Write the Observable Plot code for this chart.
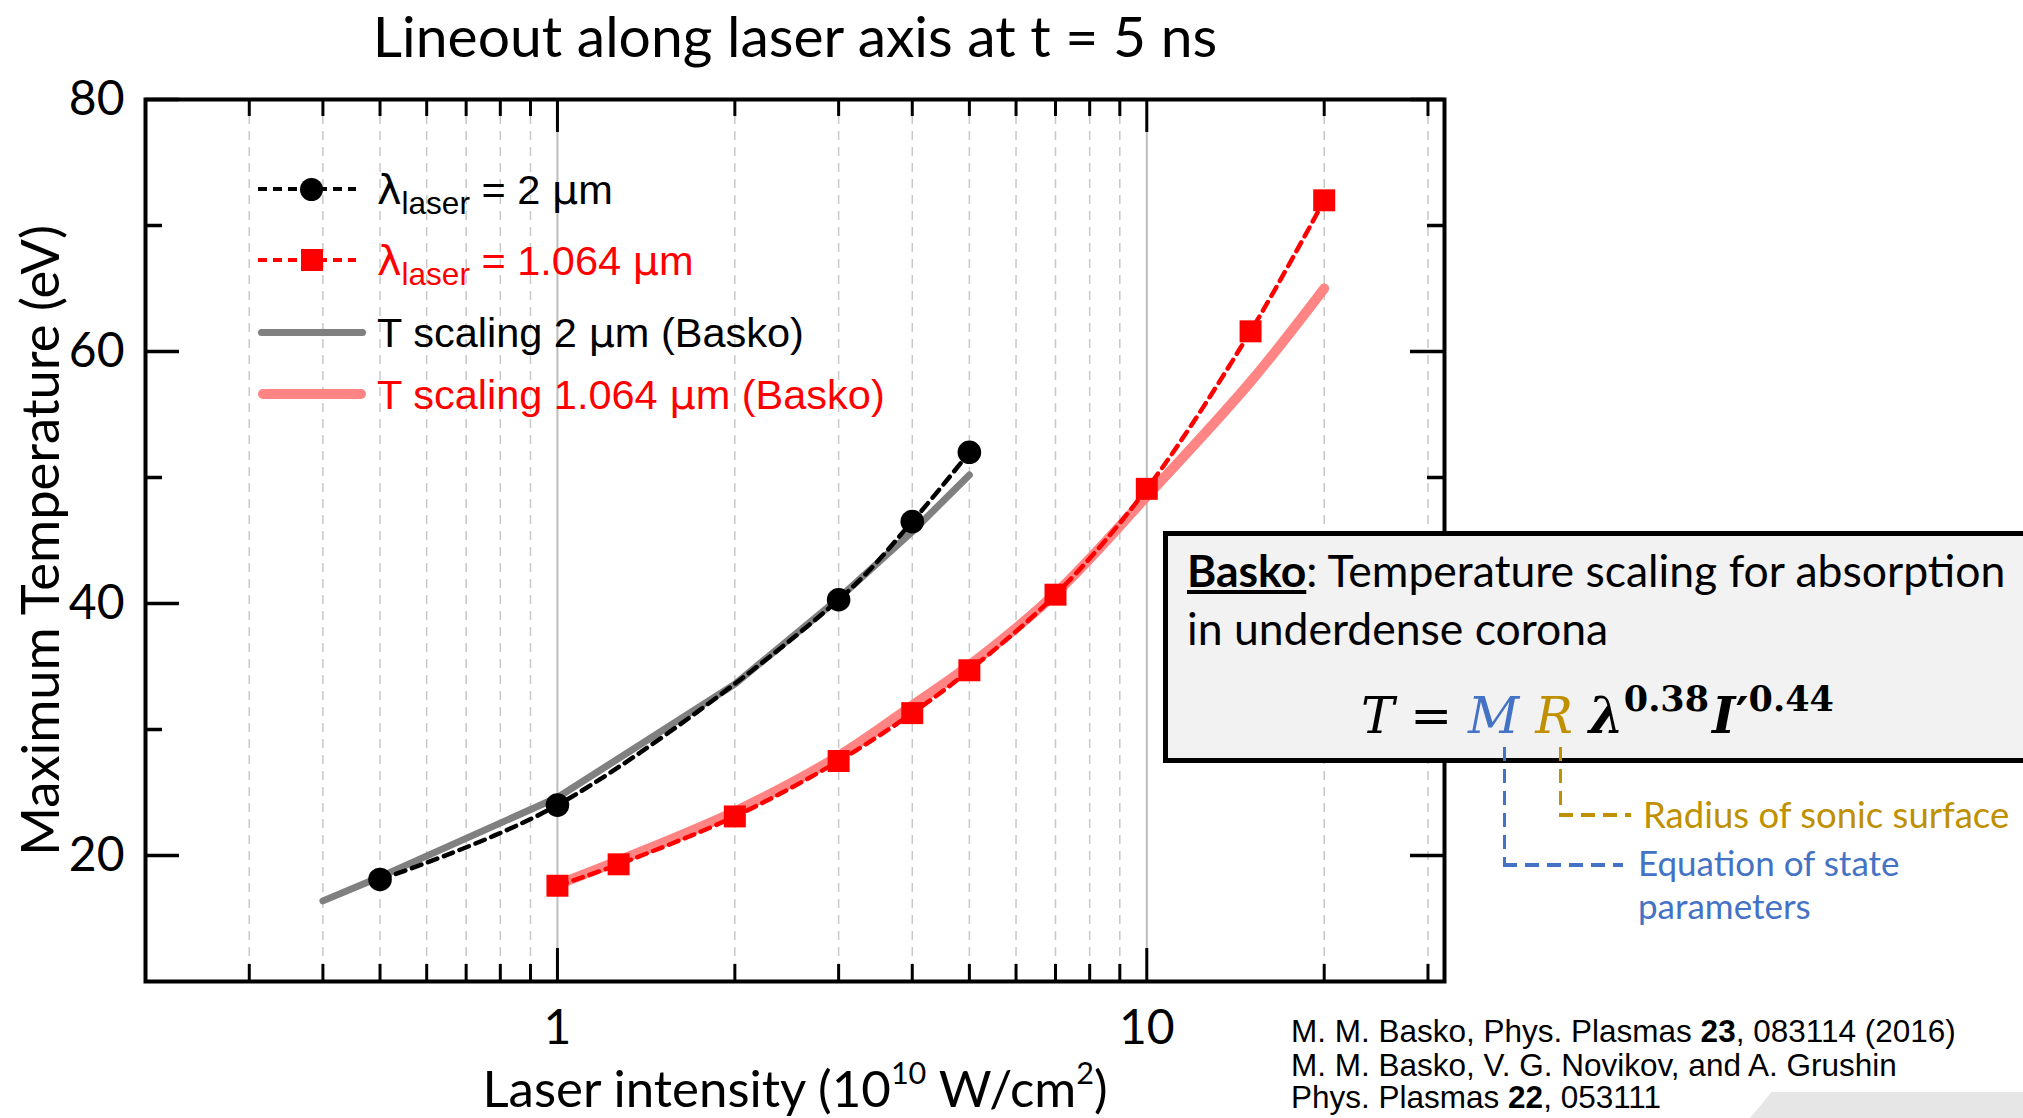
<!DOCTYPE html>
<html><head><meta charset="utf-8">
<script src="https://cdn.jsdelivr.net/npm/d3@7"></script>
<script src="https://cdn.jsdelivr.net/npm/@observablehq/plot@0.6"></script>
<style>
html,body{margin:0;padding:0;background:#fff;}
#wrap{position:relative;width:2023px;height:1118px;overflow:hidden;}
#wrap svg{position:absolute;left:0;top:0;}
.t{position:absolute;white-space:nowrap;line-height:1;}
.lato{font-family:Lato,sans-serif;}
.arial{font-family:"Liberation Sans",Arial,sans-serif;}
.t sub{font-size:0.76em;vertical-align:baseline;position:relative;top:0.33em;line-height:0;}
.t sup{font-size:0.6em;vertical-align:baseline;position:relative;top:-0.75em;line-height:0;}
.t .fs{font-size:0.7em;top:-0.62em;}
.t .sym{font-family:"DejaVu Sans",sans-serif;}
#box{position:absolute;left:1163px;top:531px;width:950px;height:232px;box-sizing:border-box;background:#f2f2f2;border:5px solid #000;}
.dash{position:absolute;}
</style></head><body><div id="wrap"></div>
<script>
// ---------- data ----------
const intensity2um = [0.5, 1, 3, 4, 5];
const temp2um = [18.1, 24.0, 40.3, 46.5, 52.0];
const intensity1um = [1, 1.27, 2, 3, 4, 5, 7, 10, 15, 20];
const temp1um = [17.6, 19.3, 23.1, 27.5, 31.3, 34.7, 40.7, 49.1, 61.6, 72.0];
const baskoI2um = [0.4, 0.5, 1, 2, 3, 4, 5];
const baskoT2um = [16.4, 18.3, 24.6, 33.6, 40.4, 45.7, 50.2];
const baskoI1um = [1, 1.27, 2, 3, 4, 5, 7, 10, 15, 20];
const baskoT1um = [17.7, 19.6, 23.5, 27.9, 31.9, 35.1, 40.8, 48.5, 57.6, 65.0];
const xDomain = [0.2, 32];
const yDomain = [10, 80];
const xMajorTicks = [1, 10];
const xMinorTicks = [0.3, 0.4, 0.5, 0.6, 0.7, 0.8, 0.9, 2, 3, 4, 5, 6, 7, 8, 9, 20, 30];
const yMajorTicks = [20, 40, 60, 80];
const yMinorTicks = [30, 50, 70];
const legendLabels = ["<span class='sym'>λ</span><sub>laser</sub> = 2 <span class='sym'>µ</span>m",
                      "<span class='sym'>λ</span><sub>laser</sub> = 1.064 <span class='sym'>µ</span>m",
                      "T scaling 2 <span class='sym'>µ</span>m (Basko)",
                      "T scaling 1.064 <span class='sym'>µ</span>m (Basko)"];
const legendColors = ["#000000", "#ff0000", "#000000", "#ff0000"];
const legendKinds = ["dashdot", "dashsquare", "solidgray", "solidpink"];

// ---------- layout ----------
const W = 2023, H = 1118;
const M = {left: 145, right: 579, top: 99, bottom: 137};
const plotW = W - M.left - M.right;
const plotH = H - M.top - M.bottom;

const sim2 = intensity2um.map((x, i) => ({x, y: temp2um[i]}));
const sim1 = intensity1um.map((x, i) => ({x, y: temp1um[i]}));
const bas2 = baskoI2um.map((x, i) => ({x, y: baskoT2um[i]}));
const bas1 = baskoI1um.map((x, i) => ({x, y: baskoT1um[i]}));

const chart = Plot.plot({
  width: W, height: H,
  marginLeft: M.left, marginRight: M.right, marginTop: M.top, marginBottom: M.bottom,
  style: {fontFamily: "Lato, sans-serif", fontSize: "47px", color: "#000", background: "transparent", overflow: "visible"},
  x: {type: "log", domain: xDomain, axis: null},
  y: {domain: yDomain, axis: null},
  marks: [
    Plot.ruleX(xMinorTicks, {stroke: "#c8c8c8", strokeWidth: 1.5, strokeDasharray: "9,7"}),
    Plot.ruleX(xMajorTicks, {stroke: "#bdbdbd", strokeWidth: 2}),
    Plot.ruleX(xMinorTicks, {insetTop: plotH - 17, stroke: "#000", strokeWidth: 3}),
    Plot.ruleX(xMinorTicks, {insetBottom: plotH - 17, stroke: "#000", strokeWidth: 3}),
    Plot.ruleX(xMajorTicks, {insetTop: plotH - 33, stroke: "#000", strokeWidth: 3}),
    Plot.ruleX(xMajorTicks, {insetBottom: plotH - 33, stroke: "#000", strokeWidth: 3}),
    Plot.ruleY(yMinorTicks, {insetRight: plotW - 17, stroke: "#000", strokeWidth: 3.5}),
    Plot.ruleY(yMinorTicks, {insetLeft: plotW - 17, stroke: "#000", strokeWidth: 3.5}),
    Plot.ruleY(yMajorTicks, {insetRight: plotW - 34, stroke: "#000", strokeWidth: 3.5}),
    Plot.ruleY(yMajorTicks, {insetLeft: plotW - 34, stroke: "#000", strokeWidth: 3.5}),
    Plot.line(bas1, {x: "x", y: "y", stroke: "#ff8585", strokeWidth: 10, strokeLinecap: "round", strokeLinejoin: "round", curve: "catmull-rom"}),
    Plot.line(bas2, {x: "x", y: "y", stroke: "#808080", strokeWidth: 7, strokeLinecap: "round", strokeLinejoin: "round"}),
    Plot.line(sim1, {x: "x", y: "y", stroke: "#ff0000", strokeWidth: 4.5, strokeDasharray: "10,7", curve: "catmull-rom"}),
    Plot.line(sim2, {x: "x", y: "y", stroke: "#000000", strokeWidth: 4.5, strokeDasharray: "10,7", curve: "catmull-rom"}),
    Plot.dot(sim2, {x: "x", y: "y", r: 11.8, fill: "#000000", stroke: null}),
    Plot.dot(sim1, {x: "x", y: "y", symbol: "square", r: 12.4, fill: "#ff0000", stroke: null}),
    Plot.frame({stroke: "#000", strokeWidth: 4}),
    Plot.axisY(yMajorTicks, {anchor: "left", tickSize: 0, tickPadding: 21, label: null, fontSize: 48}),
    Plot.axisX(xMajorTicks, {anchor: "bottom", tickSize: 0, tickPadding: 28, label: null, fontSize: 48, tickFormat: d => String(d)})
  ]
});
const wrap = document.getElementById("wrap");
wrap.appendChild(chart);

// ---------- text helpers ----------
const K = {lato: 0.887, arial: 0.8465, serif: 0.846};
function label(html, {x, baseline, size, font = "lato", color = "#000", anchor = "start", weight = "normal"}) {
  const d = document.createElement("div");
  d.className = "t " + (font === "serif" ? "" : font);
  if (font === "serif") d.style.fontFamily = "'DejaVu Serif', serif";
  d.style.fontSize = size + "px";
  d.style.color = color;
  d.style.fontWeight = weight;
  d.innerHTML = html;
  wrap.appendChild(d);
  d.style.top = (baseline - K[font] * size) + "px";
  const w = d.getBoundingClientRect().width;
  let left = x;
  if (anchor === "middle") left = x - w / 2;
  if (anchor === "end") left = x - w;
  d.style.left = left + "px";
  return d;
}

// title and axis labels
label("Lineout along laser axis at t = 5 ns", {x: 795, baseline: 58, size: 57, anchor: "middle"});
label("Laser intensity (10<sup>10</sup> W/cm<sup>2</sup>)", {x: 795, baseline: 1107, size: 51, anchor: "middle"});
{
  const fs = 52.5;
  const d = label("Maximum Temperature (eV)", {x: 0, baseline: 0, size: fs});
  const w = d.getBoundingClientRect().width;
  d.style.left = (39 - w / 2) + "px";
  d.style.top = (540 - fs / 2) + "px";
  d.style.height = fs + "px";
  d.style.transform = "rotate(-90deg)";
  d.style.transformOrigin = "50% 50%";
}

// legend
const rowY = [189, 260, 332, 394];
function bar(left, top, width, height, bg, extra = "") {
  const d = document.createElement("div");
  d.className = "dash";
  d.style.cssText += `left:${left}px;top:${top}px;width:${width}px;height:${height}px;background:${bg};${extra}`;
  wrap.appendChild(d);
  return d;
}
legendLabels.forEach((txt, i) => {
  const y = rowY[i];
  const kind = legendKinds[i];
  const c = legendColors[i];
  if (kind.startsWith("dash")) {
    bar(258, y - 2.25, 98, 4.5, `repeating-linear-gradient(90deg, ${c} 0 9px, transparent 9px 15px)`);
    if (kind === "dashdot") bar(311.5 - 11.5, y - 11.5, 23, 23, c, "border-radius:50%;");
    else bar(311.5 - 11, y - 11, 22, 22, c);
  } else if (kind === "solidgray") {
    bar(258, y - 3.5, 108, 7, "#808080", "border-radius:4px;");
  } else {
    bar(258, y - 5, 108, 10, "#ff8585", "border-radius:5px;");
  }
  label(txt, {x: 377, baseline: y + 15, size: 41.5, font: "arial", color: c});
});

// annotation box
const box = document.createElement("div");
box.id = "box";
wrap.appendChild(box);
label("<b><u>Basko</u></b>: Temperature scaling for absorption", {x: 1187, baseline: 587, size: 44.5});
label("in underdense corona", {x: 1187, baseline: 645, size: 44.5});
label("<i>T</i> = <i style='color:#4472C4'>M</i> <i style='color:#BF9000'>R</i> <b><i>λ</i><sup class='fs'>0.38</sup><i style='margin-left:3px'>I</i>′<sup class='fs'>0.44</sup></b>",
      {x: 1361, baseline: 733, size: 50, font: "serif"});

// connectors
const blue = "#4472C4", gold = "#BF9000";
bar(1502.5, 747, 3.5, 118, `repeating-linear-gradient(180deg, ${blue} 0 14px, transparent 14px 22px)`);
bar(1502.5, 863, 120, 3.5, `repeating-linear-gradient(90deg, ${blue} 0 14px, transparent 14px 22px)`);
bar(1558.5, 747, 3.5, 68, `repeating-linear-gradient(180deg, ${gold} 0 14px, transparent 14px 22px)`);
bar(1558.5, 813, 72, 3.5, `repeating-linear-gradient(90deg, ${gold} 0 14px, transparent 14px 22px)`);
label("Radius of sonic surface", {x: 1643, baseline: 828, size: 36.5, color: gold});
label("Equation of state", {x: 1638, baseline: 876, size: 35, color: blue});
label("parameters", {x: 1638, baseline: 919, size: 35, color: blue});

// citations
label("M. M. Basko, Phys. Plasmas <b>23</b>, 083114 (2016)", {x: 1291, baseline: 1043, size: 31.5, font: "arial"});
label("M. M. Basko, V. G. Novikov, and A. Grushin", {x: 1291, baseline: 1077, size: 31.5, font: "arial"});
label("Phys. Plasmas <b>22</b>, 053111", {x: 1291, baseline: 1109, size: 31.5, font: "arial"});

// slide decoration
bar(1750, 1092, 273, 26, "#e6e6e6", "clip-path:polygon(21.7px 0, 100% 0, 100% 100%, 0 100%);");
</script></body></html>
